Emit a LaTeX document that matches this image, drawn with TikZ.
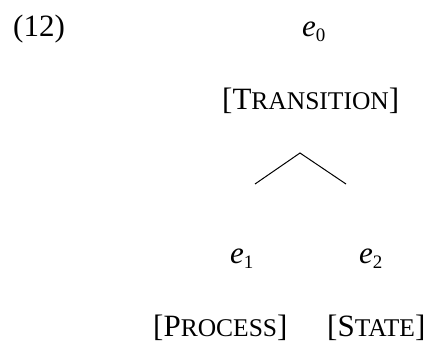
\documentclass[tikz,border=0pt]{standalone}
\usepackage{fontspec}
\setmainfont{Liberation Serif}
\newcommand{\bigf}{\fontsize{31}{36}\selectfont}
\newcommand{\scf}{\fontsize{25.5}{29}\selectfont}
\newcommand{\fsc}[2]{#1{\scf #2}}
\newcommand{\ev}[1]{\textit{e}\raisebox{-5pt}{\fontsize{19}{20}\selectfont #1}}
\begin{document}
\begin{tikzpicture}[x=1pt,y=-1pt]
\tikzset{lbl/.style={anchor=base west,inner sep=0pt,font=\bigf},
         branch/.style={line width=1pt,black}}
\useasboundingbox (0,0) rectangle (433,345);
\node[lbl] (num) at (13,37) {(12)};
\node[lbl] (e0) at (302,37) {\ev{0}};
\node[lbl] (tr) at (222,109) {[\fsc{T}{RANSITION}]};
\coordinate (apex) at (300,153);
\coordinate (bl) at (255,184);
\coordinate (br) at (346,184);
\draw[branch] (bl) -- (apex) -- (br);
\node[lbl] (e1) at (230,263) {\ev{1}};
\node[lbl] (e2) at (359,263) {\ev{2}};
\node[lbl] (pr) at (153,336) {[\fsc{P}{ROCESS}]};
\node[lbl] (st) at (327,336) {[\fsc{S}{TATE}]};
\end{tikzpicture}
\end{document}
